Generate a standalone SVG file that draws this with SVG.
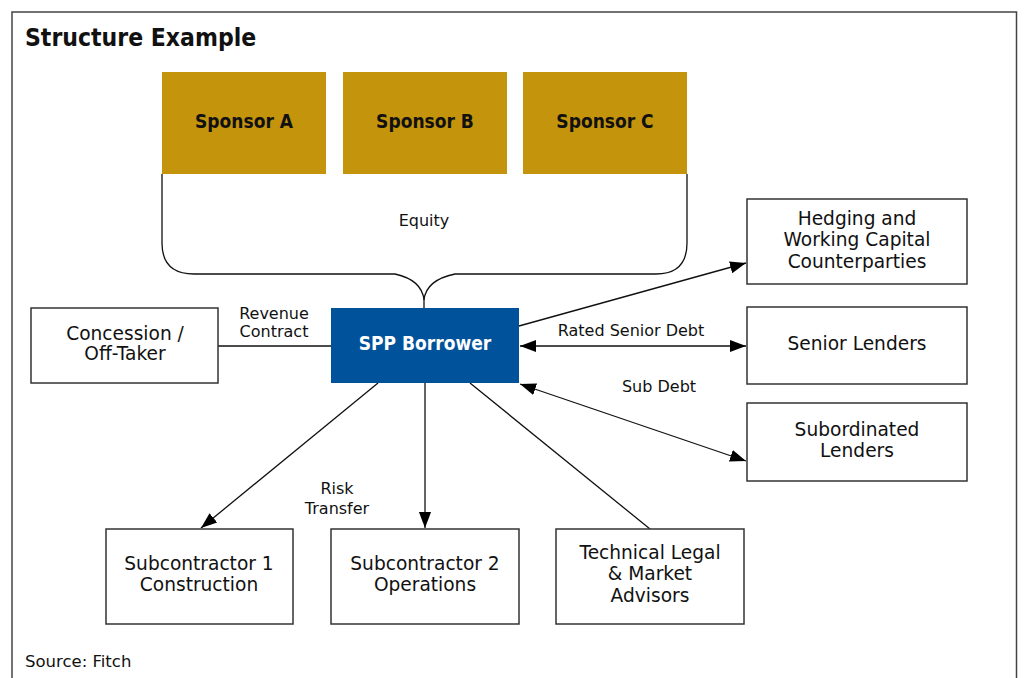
<svg xmlns="http://www.w3.org/2000/svg" width="1025" height="678" viewBox="0 0 1025 678">
<defs>
<style>
text{font-family:"DejaVu Sans","Liberation Sans",sans-serif;fill:#111;}
.n{font-size:18.6px;text-anchor:middle;}
.b{font-family:"DejaVu Sans Condensed","DejaVu Sans",sans-serif;font-weight:bold;font-size:19px;text-anchor:middle;}
.l{font-size:16px;text-anchor:middle;}
.box{fill:#fff;stroke:#333;stroke-width:1.5;}
.sp{fill:#C4940D;}
.ln{fill:none;stroke:#111;stroke-width:1.3;}
</style>
<marker id="ah" viewBox="0 0 10 10" refX="10" refY="5" markerWidth="16" markerHeight="16" markerUnits="userSpaceOnUse" orient="auto-start-reverse"><path d="M0,1.2 L10,5 L0,8.8 z" fill="#000"/></marker>
</defs>
<rect x="0" y="0" width="1025" height="678" fill="#fff"/>
<rect x="12" y="12" width="1004.5" height="680" fill="none" stroke="#444" stroke-width="1.5"/>
<text x="25" y="46" style="font-family:'DejaVu Sans Condensed','DejaVu Sans',sans-serif;font-size:24.5px;font-weight:bold">Structure Example</text>

<g id="connectors">
<path class="ln" d="M162,174 V243 Q162,274 194,274 H395 Q422,280 424,300 Q426,280 455,274 H656 Q687,274 687,243 V174"/>
<line class="ln" x1="424" y1="299" x2="424" y2="308"/>
<line class="ln" x1="218" y1="346" x2="331" y2="346"/>
<line class="ln" x1="519" y1="326" x2="746" y2="263" marker-end="url(#ah)"/>
<line class="ln" x1="520" y1="346" x2="746" y2="346" marker-start="url(#ah)" marker-end="url(#ah)"/>
<line class="ln" x1="520" y1="384" x2="746" y2="461" marker-start="url(#ah)" marker-end="url(#ah)"/>
<line class="ln" x1="378" y1="383" x2="201" y2="528" marker-end="url(#ah)"/>
<line class="ln" x1="425" y1="383" x2="425" y2="528" marker-end="url(#ah)"/>
<line class="ln" x1="470" y1="383" x2="650" y2="529"/>
<text class="l" x="424" y="226">Equity</text>
<text class="l" x="274" y="319">Revenue</text>
<text class="l" x="274" y="337">Contract</text>
<text class="l" x="631" y="336">Rated Senior Debt</text>
<text class="l" x="659" y="392">Sub Debt</text>
<text class="l" x="337" y="494">Risk</text>
<text class="l" x="337" y="514">Transfer</text>
</g>

<g id="sponsorA"><rect class="sp" x="162" y="72" width="164" height="102"/><text class="b" x="244" y="128">Sponsor A</text></g>
<g id="sponsorB"><rect class="sp" x="343" y="72" width="164" height="102"/><text class="b" x="425" y="128">Sponsor B</text></g>
<g id="sponsorC"><rect class="sp" x="523" y="72" width="164" height="102"/><text class="b" x="605" y="128">Sponsor C</text></g>

<g id="spp"><rect x="331" y="308" width="188" height="75" fill="#00529B"/><text class="b" x="425" y="350" style="fill:#fff">SPP Borrower</text></g>

<g id="concession"><rect class="box" x="31" y="308" width="187" height="75"/><text class="n" x="125" y="340">Concession /</text><text class="n" x="125" y="360">Off-Taker</text></g>

<g id="hedging"><rect class="box" x="747" y="199" width="220" height="85"/><text class="n" x="857" y="225">Hedging and</text><text class="n" x="857" y="246">Working Capital</text><text class="n" x="857" y="268">Counterparties</text></g>
<g id="senior"><rect class="box" x="747" y="307" width="220" height="77"/><text class="n" x="857" y="350">Senior Lenders</text></g>
<g id="subordinated"><rect class="box" x="747" y="403" width="220" height="78"/><text class="n" x="857" y="436">Subordinated</text><text class="n" x="857" y="457">Lenders</text></g>

<g id="sub1"><rect class="box" x="106" y="529" width="187" height="95"/><text class="n" x="199" y="570">Subcontractor 1</text><text class="n" x="199" y="591">Construction</text></g>
<g id="sub2"><rect class="box" x="331" y="529" width="188" height="95"/><text class="n" x="425" y="570">Subcontractor 2</text><text class="n" x="425" y="591">Operations</text></g>
<g id="advisors"><rect class="box" x="556" y="529" width="188" height="95"/><text class="n" x="650" y="559">Technical Legal</text><text class="n" x="650" y="580">&amp; Market</text><text class="n" x="650" y="602">Advisors</text></g>

<text x="25" y="667" style="font-size:16.5px">Source: Fitch</text>
</svg>
